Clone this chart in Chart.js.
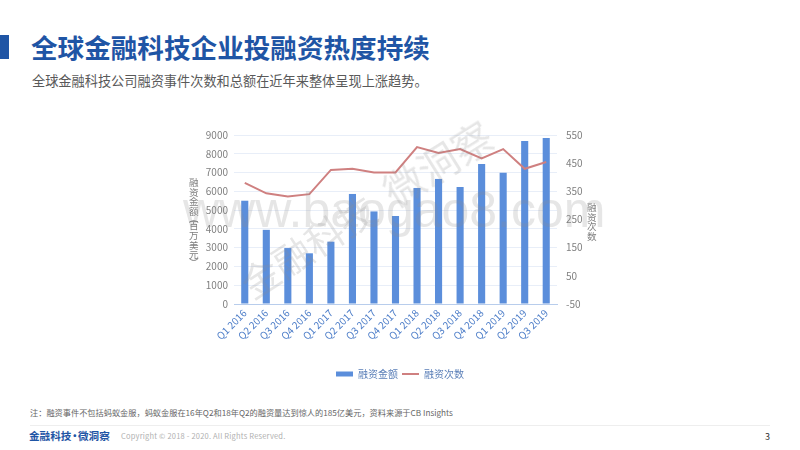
<!DOCTYPE html>
<html>
<head>
<meta charset="utf-8">
<script src="https://cdn.jsdelivr.net/npm/chart.js@4/dist/chart.umd.min.js"></script>
<style>
  html, body { margin: 0; padding: 0; background: #fff; }
  body { width: 800px; height: 450px; position: relative; overflow: hidden; font-family: "Noto Sans CJK SC", "Noto Sans", sans-serif; }
  .abs { position: absolute; white-space: nowrap; line-height: 1; }
  #chartBox { position: absolute; left: 170px; top: 123px; width: 460px; height: 266px; }
  .vtitle { width: 10px; color: #7f7f7f; font-size: 9.6px; line-height: 9.6px; }
  .vtitle span { display: block; height: 5px; line-height: 5px; }
  .mark { color: rgba(140, 140, 140, 0.22); transform-origin: left center; }
</style>
</head>
<body>
<div class="abs" style="left:0;top:35px;width:9px;height:24px;background:#1f55a5"></div>
<div class="abs" style="left:31px;top:34px;font-size:26.6px;font-weight:700;color:#1f55a5">全球金融科技企业投融资热度持续</div>
<div class="abs" style="left:32px;top:74px;font-size:13.2px;color:#595959">全球金融科技公司融资事件次数和总额在近年来整体呈现上涨趋势。</div>

<div id="chartBox"><canvas id="fundingChart"></canvas></div>
<div class="abs vtitle" style="left:189px;top:178px">融<br>资<br>金<br>额<span>&#xFE35;</span>百<br>万<br>美<br>元<span>&#xFE36;</span></div>
<div class="abs vtitle" style="left:587px;top:203px">融<br>资<br>次<br>数</div>

<div class="abs mark" style="left:183px;top:185px;font-size:50px;font-family:'Liberation Sans'">www.baogao8.com</div>
<div class="abs mark" style="left:244px;top:268px;font-size:38px;transform:rotate(-33deg)">金融科技</div>
<div class="abs mark" style="left:386px;top:174px;font-size:40px;transform:rotate(-32deg)">微洞察</div>

<div class="abs" style="left:30px;top:408px;font-size:8.2px;color:#666">注&#xFF1A;融资事件不包括蚂蚁金服&#xFF0C;蚂蚁金服在16年Q2和18年Q2的融资量达到惊人的185亿美元&#xFF0C;资料来源于CB Insights</div>
<div class="abs" style="left:30px;top:425px;width:740px;height:1px;background:#eeeeee"></div>
<div class="abs" style="left:29px;top:431px;font-size:10.6px;font-weight:700;color:#1f55a5">金融科技<span style="margin:0 -2px">•</span>微洞察</div>
<div class="abs" style="left:121px;top:432px;font-size:7.5px;color:#b0b0b0;letter-spacing:0.2px">Copyright © 2018 - 2020. All Rights Reserved.</div>
<div class="abs" style="left:765px;top:432px;font-size:9px;color:#333">3</div>

<script>
// Quarters on the x axis
const quarters = ['Q1 2016', 'Q2 2016', 'Q3 2016', 'Q4 2016', 'Q1 2017', 'Q2 2017', 'Q3 2017', 'Q4 2017',
    'Q1 2018', 'Q2 2018', 'Q3 2018', 'Q4 2018', 'Q1 2019', 'Q2 2019', 'Q3 2019'];

// Funding amount (million USD), left axis
const fundingAmount = [5500, 3950, 2980, 2700, 3320, 5860, 4930, 4680, 6180, 6660, 6230, 7460, 6990, 8680, 8840];

// Number of funding events, right axis
const fundingCount = [380, 343, 332, 340, 426, 430, 417, 417, 507, 486, 500, 467, 500, 430, 454];

const tickFont = { family: '"Noto Sans CJK SC", "Noto Sans", sans-serif', size: 10 };

new Chart(document.getElementById('fundingChart').getContext('2d'), {
    data: {
        labels: quarters,
        datasets: [
            {
                type: 'line',
                label: '融资次数',
                data: fundingCount,
                yAxisID: 'yCount',
                borderColor: '#cf8080',
                backgroundColor: '#cf8080',
                borderWidth: 2,
                pointRadius: 0,
                pointStyle: 'line',
                tension: 0,
                order: 1
            },
            {
                type: 'bar',
                label: '融资金额',
                data: fundingAmount,
                yAxisID: 'yAmount',
                backgroundColor: '#5b8edb',
                pointStyle: 'rect',
                barPercentage: 0.33,
                categoryPercentage: 1,
                order: 2
            }
        ]
    },
    options: {
        responsive: true,
        maintainAspectRatio: false,
        animation: false,
        layout: { autoPadding: false, padding: { top: 8 } },
        plugins: {
            legend: {
                position: 'bottom',
                reverse: true,
                labels: {
                    usePointStyle: true,
                    pointStyleWidth: 17,
                    boxHeight: 5,
                    padding: 4,
                    color: '#5a7fb8',
                    font: { family: tickFont.family, size: 10 }
                }
            },
            tooltip: { enabled: false }
        },
        scales: {
            x: {
                grid: { display: false },
                border: { color: '#b8cdec' },
                ticks: { autoSkip: false, minRotation: 45, maxRotation: 45, color: '#4f7fc9', font: tickFont, padding: -5 },
                afterFit: (axis) => { axis.height = 61; }
            },
            yAmount: {
                position: 'left',
                min: 0,
                max: 9000,
                grid: { color: '#e8eef8', drawTicks: false },
                border: { display: false },
                ticks: { stepSize: 1000, color: '#7f7f7f', font: tickFont, padding: 6, format: { useGrouping: false } },
                afterFit: (axis) => { axis.width = 64; }
            },
            yCount: {
                position: 'right',
                min: -50,
                max: 550,
                grid: { display: false },
                border: { display: false },
                ticks: { stepSize: 100, color: '#7f7f7f', font: tickFont, padding: 1 },
                afterFit: (axis) => { axis.width = 73; }
            }
        }
    }
});
</script>
</body>
</html>
